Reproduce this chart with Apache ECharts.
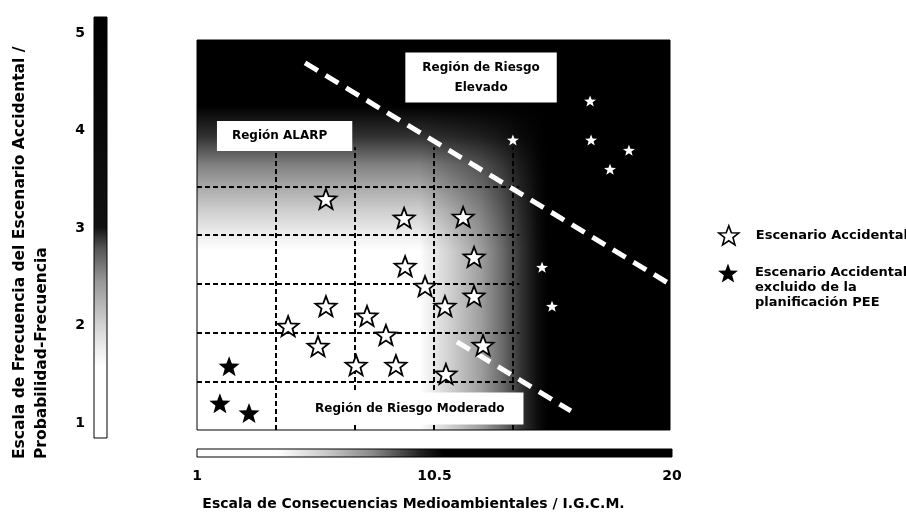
<!DOCTYPE html>
<html>
<head>
<meta charset="utf-8">
<script src="https://cdn.jsdelivr.net/npm/echarts@6.0.0/dist/echarts.min.js"></script>
<style>
  html, body { margin: 0; padding: 0; background: #fff; }
  #chart { width: 906px; height: 522px; }
</style>
</head>
<body>
<div id="chart"></div>
<script>
// tick labels of the two scales
var freqTicks = [1, 2, 3, 4, 5];
var consTicks = [1, 10.5, 20];

// x = consecuencias (1-20), y = filas de la matriz (0-8)
var scenarios = [
  [6.18, 4.74], [9.32, 4.35], [11.69, 4.37], [12.13, 3.55], [9.36, 3.36],
  [10.16, 2.95], [12.13, 2.75], [10.96, 2.54], [6.18, 2.54], [4.66, 2.13],
  [7.83, 2.34], [8.59, 1.95], [5.86, 1.72], [12.49, 1.74], [7.39, 1.33],
  [8.99, 1.33], [11.0, 1.15]
];
var excluded = [[2.29, 1.31], [1.92, 0.55], [3.09, 0.35]];
var highRisk = [
  [16.79, 6.75], [13.69, 5.95], [16.83, 5.95], [18.35, 5.74], [17.59, 5.35],
  [14.86, 3.34], [15.26, 2.54]
];

// dashed matrix cells and the two region limits
var gridCols = [4.17, 7.33, 10.5, 13.67];
var gridRows = [1, 2, 3, 4, 5];
var upperLimit = [[5.34, 7.53], [20, 2.99]];
var lowerLimit = [[11.44, 1.81], [16.02, 0.39]];

var seriesNames = ["Escenario Accidental", "Escenario Accidental\nexcluido de la\nplanificación PEE"];
var regionNames = ["Región ALARP", "Región de Riesgo\nElevado", "Región de Riesgo Moderado"];
var xTitle = "Escala de Consecuencias Medioambientales / I.G.C.M.";
var yTitle = ["Escala de Frecuencia del Escenario Accidental /", "Probabilidad-Frecuencia"];

var FONT = "DejaVu Sans";
var starPath = "path://M10,0L12.47,6.6L19.51,6.91L13.99,11.3L15.88,18.09L10,14.2L4.12,18.09L6.01,11.3L0.49,6.91L7.53,6.6Z";

var gridSegs = [];
gridCols.forEach(function (x) {
  gridSegs.push({ coords: [[x, 0], [x, 5.8]] });
});
gridRows.forEach(function (y) {
  gridSegs.push({ coords: [[1, y], [13.95, y]] });
});

function boxLabel(pos, padding, extra) {
  var l = {
    show: true,
    formatter: "{b}",
    position: pos,
    distance: 0,
    color: "#000",
    fontFamily: FONT,
    fontSize: 12,
    fontWeight: "bold",
    backgroundColor: "#fff",
    padding: padding
  };
  return Object.assign(l, extra || {});
}

var chart = echarts.init(document.getElementById("chart"));

chart.setOption({
  backgroundColor: "#fff",
  animation: false,
  grid: [
    {
      left: 197, top: 40, width: 473, height: 390,
      show: true, borderColor: "#000", borderWidth: 1,
      backgroundColor: {
        type: "linear", x: 0, y: 0, x2: 0, y2: 1,
        colorStops: [
          { offset: 0, color: "#000" },
          { offset: 0.17, color: "#000" },
          { offset: 0.25, color: "#333" },
          { offset: 0.32, color: "#808080" },
          { offset: 0.38, color: "#aaa" },
          { offset: 0.44, color: "#d0d0d0" },
          { offset: 0.5, color: "#eee" },
          { offset: 0.54, color: "#fff" },
          { offset: 1, color: "#fff" }
        ]
      }
    },
    {
      left: 94, top: 17, width: 13, height: 421,
      show: true, borderColor: "#000", borderWidth: 1,
      backgroundColor: {
        type: "linear", x: 0, y: 0, x2: 0, y2: 1,
        colorStops: [
          { offset: 0, color: "#000" },
          { offset: 0.5, color: "#111" },
          { offset: 0.55, color: "#555" },
          { offset: 0.63, color: "#999" },
          { offset: 0.75, color: "#ddd" },
          { offset: 0.83, color: "#fff" },
          { offset: 1, color: "#fff" }
        ]
      }
    },
    {
      left: 197, top: 449, width: 475, height: 8,
      show: true, borderColor: "#000", borderWidth: 1,
      backgroundColor: {
        type: "linear", x: 0, y: 0, x2: 1, y2: 0,
        colorStops: [
          { offset: 0, color: "#fff" },
          { offset: 0.17, color: "#fff" },
          { offset: 0.27, color: "#ccc" },
          { offset: 0.37, color: "#888" },
          { offset: 0.47, color: "#222" },
          { offset: 0.52, color: "#000" },
          { offset: 1, color: "#000" }
        ]
      }
    }
  ],
  xAxis: [
    { gridIndex: 0, type: "value", min: 1, max: 20, show: false },
    { gridIndex: 1, type: "value", min: 0, max: 1, show: false },
    {
      gridIndex: 2, type: "value", min: 1, max: 20,
      axisLine: { show: false }, axisTick: { show: false }, splitLine: { show: false },
      axisLabel: {
        customValues: consTicks, margin: 12,
        color: "#000", fontFamily: FONT, fontSize: 14, fontWeight: "bold"
      },
      name: xTitle, nameLocation: "middle", nameGap: 40,
      nameTextStyle: {
        color: "#000", fontFamily: FONT, fontSize: 14, fontWeight: "bold",
        padding: [0, 42, 0, 0]
      }
    }
  ],
  yAxis: [
    { gridIndex: 0, type: "value", min: 0, max: 8, show: false },
    {
      gridIndex: 1, type: "value", min: 0.846, max: 5.164,
      axisLine: { show: false }, axisTick: { show: false }, splitLine: { show: false },
      axisLabel: {
        customValues: freqTicks, margin: 9,
        color: "#000", fontFamily: FONT, fontSize: 14, fontWeight: "bold"
      }
    },
    { gridIndex: 2, type: "value", min: 0, max: 1, show: false }
  ],
  legend: [
    {
      data: [seriesNames[0]],
      left: 718, top: 225, padding: 0, selectedMode: false,
      itemWidth: 20, itemHeight: 19,
      itemStyle: { color: "#fff", borderColor: "#000", borderWidth: 1.6 },
      textStyle: {
        color: "#000", fontFamily: FONT, fontSize: 13, fontWeight: "bold",
        padding: [0, 0, 0, 12]
      }
    },
    {
      data: [seriesNames[1]],
      left: 718, top: 235.5, padding: 0, selectedMode: false,
      itemWidth: 20, itemHeight: 19,
      itemStyle: { color: "#000", borderWidth: 0 },
      // two empty lines on top keep the first line level with the icon
      formatter: function (name) { return "\n\n" + name; },
      textStyle: {
        color: "#000", fontFamily: FONT, fontSize: 13, fontWeight: "bold",
        lineHeight: 15, padding: [0, 0, 0, 12]
      }
    }
  ],
  graphic: [
    {
      type: "text", x: 9, y: 459, rotation: Math.PI / 2, silent: true,
      style: {
        text: yTitle.join("\n"),
        fill: "#000", fontFamily: FONT, fontSize: 15.5, fontWeight: "bold",
        lineHeight: 22, align: "left", verticalAlign: "top"
      }
    }
  ],
  series: [
    {
      type: "lines", coordinateSystem: "cartesian2d", xAxisIndex: 0, yAxisIndex: 0,
      silent: true, z: 2,
      lineStyle: { color: "#000", width: 2, type: [5, 3], opacity: 1 },
      data: gridSegs
    },
    {
      type: "lines", coordinateSystem: "cartesian2d", xAxisIndex: 0, yAxisIndex: 0,
      silent: true, z: 3,
      lineStyle: { color: "#fff", width: 5, type: [15, 9], opacity: 1 },
      data: [{ coords: upperLimit }, { coords: lowerLimit }]
    },
    {
      name: seriesNames[0], type: "scatter", xAxisIndex: 0, yAxisIndex: 0,
      silent: true, z: 4,
      symbol: starPath, symbolSize: [21, 20],
      itemStyle: { color: "#fff", borderColor: "#000", borderWidth: 1.8, opacity: 1 },
      data: scenarios,
      markArea: {
        silent: true,
        itemStyle: {
          color: {
            type: "linear", x: 0, y: 0, x2: 1, y2: 0,
            colorStops: [
              { offset: 0, color: "rgba(0,0,0,0)" },
              { offset: 0.47, color: "rgba(0,0,0,0)" },
              { offset: 0.54, color: "rgba(0,0,0,0.2)" },
              { offset: 0.6, color: "rgba(0,0,0,0.38)" },
              { offset: 0.645, color: "rgba(0,0,0,0.58)" },
              { offset: 0.685, color: "rgba(0,0,0,0.8)" },
              { offset: 0.72, color: "rgba(0,0,0,0.95)" },
              { offset: 0.74, color: "rgba(0,0,0,1)" },
              { offset: 1, color: "rgba(0,0,0,1)" }
            ]
          }
        },
        data: [[{ xAxis: 1, yAxis: 0 }, { xAxis: 20, yAxis: 8 }]]
      }
    },
    {
      name: seriesNames[0], type: "scatter", xAxisIndex: 0, yAxisIndex: 0,
      silent: true, z: 4,
      symbol: starPath, symbolSize: [12, 11],
      itemStyle: { color: "#fff", borderWidth: 0, opacity: 1 },
      data: highRisk
    },
    {
      name: seriesNames[1], type: "scatter", xAxisIndex: 0, yAxisIndex: 0,
      silent: true, z: 4,
      symbol: starPath, symbolSize: [21, 20],
      itemStyle: { color: "#000", borderWidth: 0, opacity: 1 },
      data: excluded
    },
    {
      type: "scatter", xAxisIndex: 0, yAxisIndex: 0, silent: true, z: 5,
      symbolSize: 0.1, itemStyle: { color: "rgba(0,0,0,0)", opacity: 1 },
      data: [
        { name: regionNames[0], value: [1.8, 6.03], label: boxLabel("right", [9, 25, 9, 15]) },
        { name: regionNames[1], value: [12.41, 7.23], label: boxLabel("inside", [5, 17, 5, 17], { lineHeight: 20, align: "center" }) },
        { name: regionNames[2], value: [5.14, 0.44], label: boxLabel("right", [10, 19, 10, 15]) }
      ]
    }
  ]
});
</script>
</body>
</html>
